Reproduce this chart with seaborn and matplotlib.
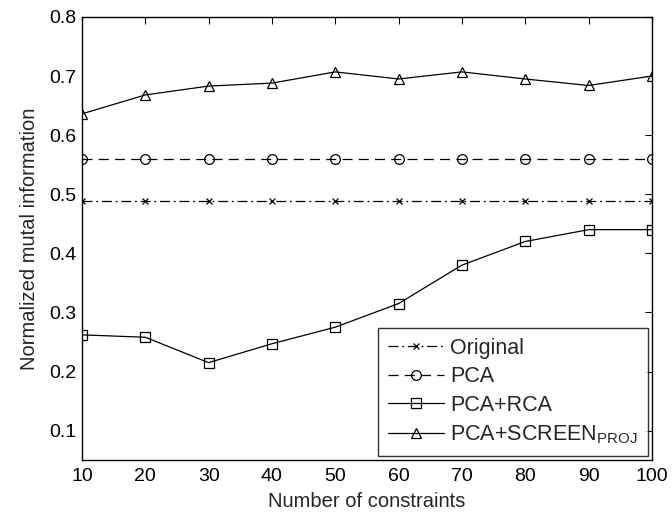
import matplotlib
matplotlib.use("Agg")
import matplotlib.pyplot as plt
import seaborn as sns
import pandas as pd

constraints = [10, 20, 30, 40, 50, 60, 70, 80, 90, 100]
original = [0.488] * 10
pca = [0.56] * 10
pca_rca = [0.262, 0.258, 0.215, 0.247, 0.275, 0.315, 0.380, 0.420, 0.440, 0.440]
pca_screen = [0.636, 0.668, 0.683, 0.688, 0.707, 0.695, 0.707, 0.695, 0.684, 0.700]

series_names = ["Original", "PCA", "PCA+RCA", r"PCA+SCREEN$_{\mathregular{PROJ}}$"]
series_values = [original, pca, pca_rca, pca_screen]
markers = ["x", "o", "s", "^"]
linestyles = [(0, (8, 3, 1.5, 3)), (0, (8, 5)), "-", "-"]

sns.set_style("white")
plt.rcParams["font.family"] = ["Liberation Sans", "DejaVu Sans"]
plt.rcParams["mathtext.fontset"] = "custom"
plt.rcParams["mathtext.rm"] = "Liberation Sans"

fig = plt.figure(figsize=(6.72, 5.13), dpi=100)
ax = fig.add_axes([0.122, 0.103, 0.848, 0.864])

for name, vals, m, ls in zip(series_names, series_values, markers, linestyles):
    df = pd.DataFrame({"x": constraints, "y": vals})
    sns.lineplot(data=df, x="x", y="y", ax=ax, color="black", marker=m,
                 linestyle=ls, linewidth=0.9, markersize=7 if m != "x" else 5,
                 markerfacecolor="none", markeredgecolor="black",
                 markeredgewidth=0.9, label=name)

ax.set_xlim(10, 100)
ax.set_ylim(0.05, 0.8)
ax.set_xticks(constraints)
ax.set_yticks([0.1, 0.2, 0.3, 0.4, 0.5, 0.6, 0.7, 0.8])
ax.set_yticklabels(["0.1", "0.2", "0.3", "0.4", "0.5", "0.6", "0.7", "0.8"])
ax.tick_params(direction="in", top=True, right=True, length=5, width=0.8,
               labelsize=14, colors="black")
ax.tick_params(axis="x", pad=6)
ax.tick_params(axis="y", pad=4)
for s in ax.spines.values():
    s.set_color("black")
    s.set_linewidth(1.0)
ax.set_xlabel("Number of constraints", fontsize=14.5, labelpad=5)
ax.set_ylabel("Normalized mutal information", fontsize=14.5, labelpad=7)

leg = ax.legend(loc="lower right", bbox_to_anchor=(1.0, 0.0), fontsize=15.5,
                frameon=True, fancybox=False, edgecolor="black",
                handlelength=2.6, borderpad=0.45, labelspacing=0.35,
                handletextpad=0.3, borderaxespad=0.2)
leg.get_frame().set_linewidth(1.0)

fig.savefig("out.png", dpi=100)
